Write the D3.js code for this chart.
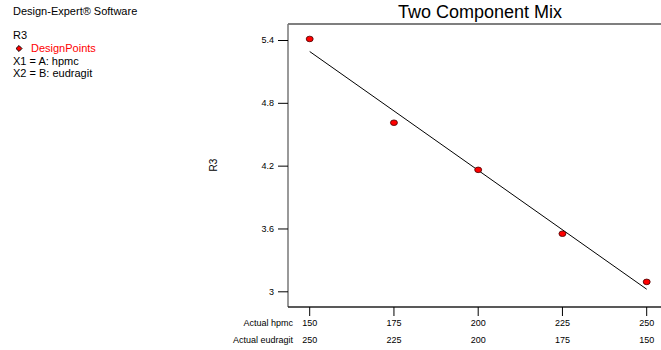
<!DOCTYPE html>
<html>
<head>
<meta charset="utf-8">
<script src="https://cdn.jsdelivr.net/npm/d3@7"></script>
<style>
  body { margin: 0; background: #fff; }
  text { font-family: "Liberation Sans", Arial, sans-serif; }
</style>
</head>
<body>
<div id="chart"></div>
<script>
// data
var hpmc = [150, 175, 200, 225, 250];
var eudragit = [250, 225, 200, 175, 150];
var r3 = [5.41, 4.61, 4.16, 3.55, 3.09];
var fitX = [150, 250];
var fitY = [5.29, 3.02];
var yTicks = [3, 3.6, 4.2, 4.8, 5.4];
var infoLines = ["R3", "DesignPoints", "X1 = A: hpmc", "X2 = B: eudragit"];

var W = 661, H = 350;
var box = { left: 288, top: 24, right: 662, bottom: 307 };

var svg = d3.select("#chart").append("svg")
  .attr("width", W).attr("height", H);

var x = d3.scaleLinear().domain([150, 250]).range([309.7, 646.7]);
var y = d3.scaleLinear().domain([3, 5.4]).range([291.3, 40]);

// header text on the left
svg.append("text").attr("x", 13).attr("y", 15)
  .attr("font-size", 11).attr("fill", "#000")
  .text("Design-Expert® Software");

infoLines.forEach(function(t, i) {
  var yy = [38.5, 52, 65, 77][i];
  svg.append("text")
    .attr("x", i == 1 ? 31 : 13).attr("y", yy)
    .attr("font-size", 11)
    .attr("fill", i == 1 ? "#ff0000" : "#000")
    .text(t);
});
// legend diamond (square turned 45 degrees)
svg.append("path")
  .attr("d", d3.symbol().type(d3.symbolSquare).size(18)())
  .attr("transform", "translate(19,48.5) rotate(45)")
  .attr("fill", "#ff0000").attr("stroke", "#000").attr("stroke-width", 0.9);

// title
svg.append("text").attr("x", 480).attr("y", 18)
  .attr("text-anchor", "middle").attr("font-size", 18)
  .text("Two Component Mix");

// frame: top, left, bottom
svg.append("line").attr("x1", box.left).attr("x2", box.right)
  .attr("y1", box.top).attr("y2", box.top)
  .attr("stroke", "#555").attr("stroke-width", 1.5);
svg.append("line").attr("x1", box.left).attr("x2", box.left)
  .attr("y1", box.top).attr("y2", box.bottom)
  .attr("stroke", "#777").attr("stroke-width", 1.5);
svg.append("line").attr("x1", box.left).attr("x2", box.right)
  .attr("y1", box.bottom).attr("y2", box.bottom)
  .attr("stroke", "#222").attr("stroke-width", 1.5);

// y axis
var yAxis = d3.axisLeft(y).tickValues(yTicks).tickSize(10).tickPadding(4)
  .tickFormat(function(d) { return d3.format("")(+d.toFixed(1)); });
var gy = svg.append("g").attr("transform", "translate(" + box.left + ",0)").call(yAxis);
gy.select(".domain").remove();
gy.selectAll(".tick line").attr("stroke", "#000");
gy.selectAll(".tick text").attr("font-size", 9).attr("fill", "#000")
  .style("font-family", "Liberation Sans, Arial, sans-serif");

// y label
svg.append("text")
  .attr("transform", "translate(217,165) rotate(-90)")
  .attr("text-anchor", "middle").attr("font-size", 10)
  .text("R3");

// x ticks
svg.selectAll(".xt").data(hpmc).enter().append("line")
  .attr("x1", function(d) { return x(d); }).attr("x2", function(d) { return x(d); })
  .attr("y1", box.bottom).attr("y2", box.bottom + 9)
  .attr("stroke", "#000");

svg.selectAll(".xl1").data(hpmc).enter().append("text")
  .attr("x", function(d) { return x(d); }).attr("y", 326)
  .attr("text-anchor", "middle").attr("font-size", 9)
  .text(function(d) { return d; });
svg.selectAll(".xl2").data(eudragit).enter().append("text")
  .attr("x", function(d, i) { return x(hpmc[i]); }).attr("y", 343)
  .attr("text-anchor", "middle").attr("font-size", 9)
  .text(function(d) { return d; });

svg.append("text").attr("x", 293).attr("y", 326)
  .attr("text-anchor", "end").attr("font-size", 9).text("Actual hpmc");
svg.append("text").attr("x", 293).attr("y", 343)
  .attr("text-anchor", "end").attr("font-size", 9).text("Actual eudragit");

// fit line
svg.append("line")
  .attr("x1", x(fitX[0])).attr("y1", y(fitY[0]))
  .attr("x2", x(fitX[1])).attr("y2", y(fitY[1]))
  .attr("stroke", "#000").attr("stroke-width", 1);

// design points
svg.selectAll(".pt").data(r3).enter().append("ellipse")
  .attr("cx", function(d, i) { return x(hpmc[i]); })
  .attr("cy", function(d) { return y(d); })
  .attr("rx", 3.5).attr("ry", 2.8)
  .attr("fill", "#ff0000").attr("stroke", "#400").attr("stroke-width", 0.8);
</script>
</body>
</html>
